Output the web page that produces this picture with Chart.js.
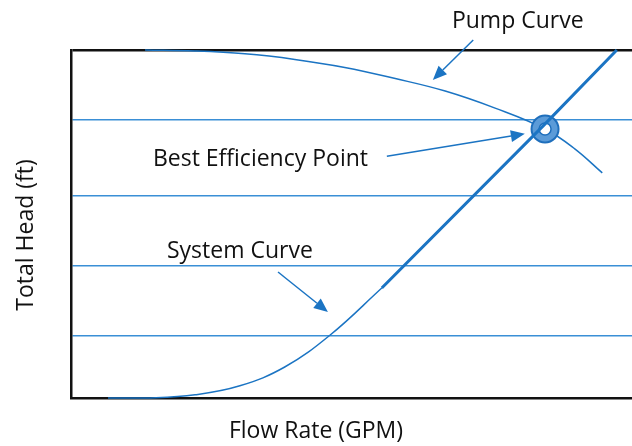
<!DOCTYPE html>
<html>
<head>
<meta charset="utf-8">
<script src="https://cdn.jsdelivr.net/npm/chart.js@4.4.0/dist/chart.umd.min.js"></script>
<style>
  html, body { margin: 0; padding: 0; background: #fff; overflow: hidden; }
  #wrap { width: 632px; height: 446px; position: relative; }
  canvas { display: block; }
</style>
</head>
<body>
<div id="wrap"><canvas id="pump"></canvas></div>
<script>
// flow (x) and head (y) in arbitrary 0-100 units
let pumpFlow = [13.2, 22.1, 31.0, 39.9, 48.8, 57.8, 66.7, 75.6, 84.5, 89.8, 94.7];
let pumpHead = [100, 99.7, 98.9, 97.3, 95.0, 91.8, 88.2, 83.3, 77.3, 71.6, 64.7];

let sysFlowLow = [6.6, 14.1, 22.1, 30.1, 38.1, 46.2, 55.4];
let sysHeadLow = [0, 0, 0.9, 3.5, 8.9, 18.1, 31.6];

let sysFlowHigh = [55.4, 84.3, 97.3];
let sysHeadHigh = [31.6, 78.4, 100];

let bepFlow = 84.5;
let bepHead = 77.3;

let gridHeads = [0, 18, 38, 58, 80, 100];

// labels: text, x, y (data units, x = left edge, y = baseline)
let labelText = ['Pump Curve', 'Best Efficiency Point', 'System Curve'];
let labelX = [67.9, 14.6, 17.1];
let labelY = [106.3, 66.7, 40.2];

// arrows: from (x0,y0) to tip (x1,y1)
let arrowX0 = [71.7, 56.3, 36.9];
let arrowY0 = [102.9, 69.5, 36.2];
let arrowX1 = [64.5, 80.9, 45.8];
let arrowY1 = [91.4, 75.9, 24.7];

let xTitle = 'Flow Rate (GPM)';
let yTitle = 'Total Head (ft)';

function pts(xs, ys) {
    return xs.map((x, i) => ({ x: x, y: ys[i] }));
}

const blue = '#1b74c3';
const font = '"Open Sans", sans-serif';

// annotation text + arrows + axis titles
const notes = {
    id: 'notes',
    afterDatasetsDraw(chart) {
        const c = chart.ctx;
        const xs = chart.scales.x, ys = chart.scales.y;
        c.save();
        c.fillStyle = '#111';
        c.font = '23px ' + font;
        c.textBaseline = 'alphabetic';
        c.textAlign = 'left';
        labelText.forEach((t, i) => {
            c.fillText(t, xs.getPixelForValue(labelX[i]), ys.getPixelForValue(labelY[i]));
        });

        c.strokeStyle = blue;
        c.fillStyle = blue;
        c.lineWidth = 1.5;
        arrowX0.forEach((x0, i) => {
            let ax = xs.getPixelForValue(x0), ay = ys.getPixelForValue(arrowY0[i]);
            let bx = xs.getPixelForValue(arrowX1[i]), by = ys.getPixelForValue(arrowY1[i]);
            let ang = Math.atan2(by - ay, bx - ax);
            let len = 14, half = 6;
            let hx = bx - len * Math.cos(ang), hy = by - len * Math.sin(ang);
            c.beginPath();
            c.moveTo(ax, ay);
            c.lineTo(hx, hy);
            c.stroke();
            c.beginPath();
            c.moveTo(bx, by);
            c.lineTo(hx + half * Math.sin(ang), hy - half * Math.cos(ang));
            c.lineTo(hx - half * Math.sin(ang), hy + half * Math.cos(ang));
            c.closePath();
            c.fill();
        });

        // axis titles
        c.fillStyle = '#111';
        c.textAlign = 'center';
        c.fillText(xTitle, chart.width / 2, 438);
        c.translate(33, 235);
        c.rotate(-Math.PI / 2);
        c.fillText(yTitle, 0, 0);
        c.restore();
    }
};

var ctx = document.getElementById('pump');

var chart = new Chart(ctx, {
    type: 'line',
    data: {
        datasets: [
            {
                label: 'System Curve (upper)',
                data: pts(sysFlowHigh, sysHeadHigh),
                borderColor: blue,
                borderWidth: 3,
                pointRadius: 0,
                tension: 0,
                clip: false
            },
            {
                label: 'BEP inner',
                data: [{ x: bepFlow, y: bepHead }],
                showLine: false,
                pointRadius: 6,
                pointBackgroundColor: '#ffffff',
                pointBorderColor: '#1f6fbc',
                pointBorderWidth: 1.5
            },
            {
                label: 'BEP',
                data: [{ x: bepFlow, y: bepHead }],
                showLine: false,
                pointRadius: 13.5,
                pointBackgroundColor: '#5b9bd8',
                pointBorderColor: '#1f6fbc',
                pointBorderWidth: 2
            },
            {
                label: 'System Curve',
                data: pts(sysFlowLow, sysHeadLow),
                borderColor: blue,
                borderWidth: 1.5,
                pointRadius: 0,
                tension: 0.4,
                clip: false
            },
            {
                label: 'Pump Curve',
                data: pts(pumpFlow, pumpHead),
                borderColor: blue,
                borderWidth: 1.5,
                pointRadius: 0,
                tension: 0.4,
                clip: false
            }
        ]
    },
    options: {
        responsive: true,
        maintainAspectRatio: false,
        animation: false,
        layout: {
            autoPadding: false,
            padding: { left: 71, top: 50, right: 0, bottom: 48 }
        },
        plugins: {
            legend: { display: false },
            tooltip: { enabled: false }
        },
        scales: {
            x: {
                type: 'linear',
                min: 0,
                max: 100,
                ticks: { display: false },
                grid: { display: false, drawTicks: false },
                border: { display: true, color: '#111', width: 2.5 }
            },
            y: {
                type: 'linear',
                min: 0,
                max: 100,
                afterBuildTicks: (axis) => {
                    axis.ticks = gridHeads.map(v => ({ value: v }));
                },
                ticks: { display: false },
                grid: {
                    drawTicks: false,
                    color: (c) => (c.tick && (c.tick.value === 100) ? '#111' : (c.tick && c.tick.value === 0 ? 'rgba(0,0,0,0)' : '#3a8fd6')),
                    lineWidth: (c) => (c.tick && c.tick.value === 100 ? 2.5 : 1.5)
                },
                border: { display: true, color: '#111', width: 2.5 }
            }
        }
    },
    plugins: [notes]
});
</script>
</body>
</html>
